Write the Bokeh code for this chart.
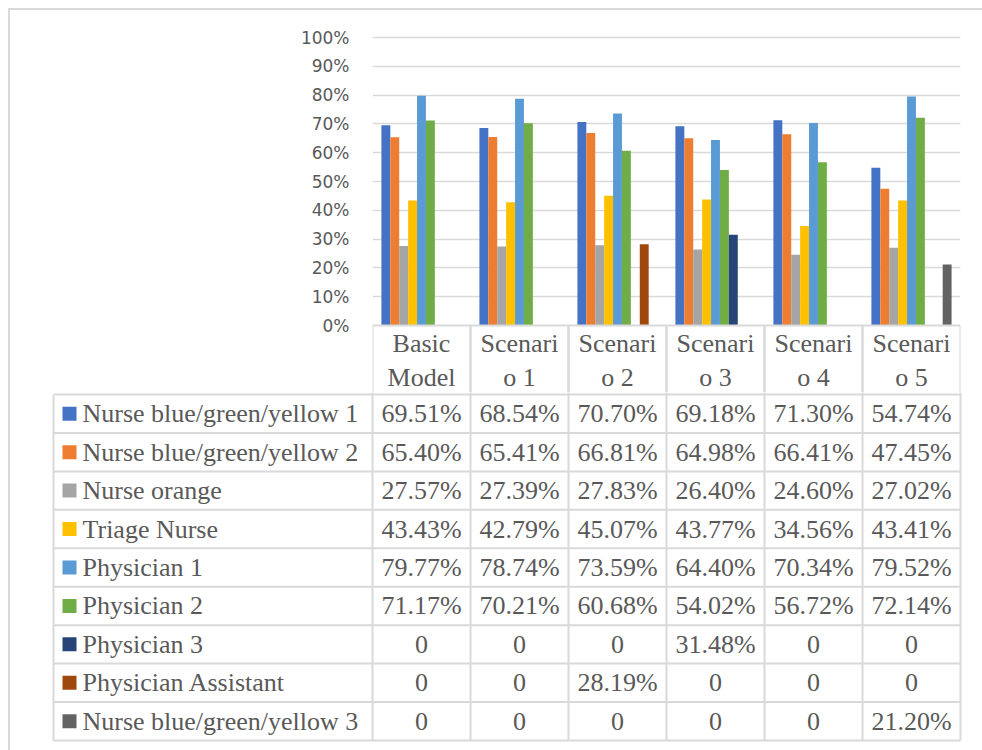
from bokeh.plotting import figure
from bokeh.models import FactorRange, Range1d, FixedTicker, NumeralTickFormatter, ColumnDataSource
from bokeh.transform import dodge
from bokeh.layouts import column
from bokeh.core.properties import value
from bokeh.embed import file_html
from bokeh.resources import INLINE

# ---------------- data ----------------
categories = ["Basic Model", "Scenario 1", "Scenario 2", "Scenario 3", "Scenario 4", "Scenario 5"]
header_labels = ["Basic\nModel", "Scenari\no 1", "Scenari\no 2", "Scenari\no 3", "Scenari\no 4", "Scenari\no 5"]

series_names = [
    "Nurse blue/green/yellow 1",
    "Nurse blue/green/yellow 2",
    "Nurse orange",
    "Triage Nurse",
    "Physician 1",
    "Physician 2",
    "Physician 3",
    "Physician Assistant",
    "Nurse blue/green/yellow 3",
]

nurse_bgy_1 = [0.6951, 0.6854, 0.7070, 0.6918, 0.7130, 0.5474]
nurse_bgy_2 = [0.6540, 0.6541, 0.6681, 0.6498, 0.6641, 0.4745]
nurse_orange = [0.2757, 0.2739, 0.2783, 0.2640, 0.2460, 0.2702]
triage_nurse = [0.4343, 0.4279, 0.4507, 0.4377, 0.3456, 0.4341]
physician_1 = [0.7977, 0.7874, 0.7359, 0.6440, 0.7034, 0.7952]
physician_2 = [0.7117, 0.7021, 0.6068, 0.5402, 0.5672, 0.7214]
physician_3 = [0, 0, 0, 0.3148, 0, 0]
physician_assistant = [0, 0, 0.2819, 0, 0, 0]
nurse_bgy_3 = [0, 0, 0, 0, 0, 0.2120]

y_ticks = [0.0, 0.1, 0.2, 0.3, 0.4, 0.5, 0.6, 0.7, 0.8, 0.9, 1.0]

series_values = [nurse_bgy_1, nurse_bgy_2, nurse_orange, triage_nurse,
                 physician_1, physician_2, physician_3, physician_assistant, nurse_bgy_3]
colors = ["#4472C4", "#ED7D31", "#A5A5A5", "#FFC000", "#5B9BD5",
          "#70AD47", "#264478", "#9E480E", "#636363"]

TEXT = "#595959"
LINE = "#d9d9d9"
font = value("Liberation Serif")

# ---------------- chart (with the header row of the data table) ----------------
keys = ["s%d" % i for i in range(len(series_names))]
data = {"cat": categories, "head": header_labels}
for k, v in zip(keys, series_values):
    data[k] = v
src = ColumnDataSource(data)

PX = 288.0          # pixels per 100 %
below = 67          # header row height below the 0 % line
above = 2

p1 = figure(width=972, height=25 + above + 288 + below,
            x_range=FactorRange(*categories, range_padding=0),
            y_range=Range1d(-below / PX, 1 + above / PX),
            x_axis_location=None, y_axis_location="left",
            toolbar_location=None, output_backend="svg",
            min_border_left=362, min_border_right=22,
            min_border_top=25, min_border_bottom=0)
p1.frame_align = False
p1.outline_line_color = None
p1.background_fill_color = "white"
p1.border_fill_color = "white"

n = len(series_names)
bw = 1 / (n + 2)
for i, k in enumerate(keys):
    p1.vbar(x=dodge("cat", (i - (n - 1) / 2) * bw, range=p1.x_range), top=k,
            width=bw, source=src, fill_color=colors[i], line_color=None)

# category axis line and separators (header row of the data table)
p1.segment(x0=dodge("cat", -0.5, range=p1.x_range), y0=0,
           x1=dodge("cat", 0.5, range=p1.x_range), y1=0,
           source=src, line_color=LINE, line_width=2)
p1.segment(x0=dodge("cat", -0.5, range=p1.x_range), y0=0,
           x1=dodge("cat", -0.5, range=p1.x_range), y1=-1,
           source=src, line_color=LINE, line_width=2)
p1.segment(x0=dodge("cat", 0.5, range=p1.x_range), y0=0,
           x1=dodge("cat", 0.5, range=p1.x_range), y1=-1,
           source=src, line_color=LINE, line_width=2)
p1.text(x="cat", y=-35 / PX, text="head", source=src,
        text_font=font, text_font_size="26px", text_color=TEXT,
        text_align="center", text_baseline="middle", text_line_height=1.15)

yax = p1.yaxis[0]
yax.ticker = FixedTicker(ticks=y_ticks)
yax.formatter = NumeralTickFormatter(format="0%")
yax.axis_line_color = None
yax.major_tick_line_color = None
yax.minor_tick_line_color = None
yax.major_tick_out = 0
yax.major_tick_in = 0
yax.major_label_standoff = 23
yax.major_label_text_font = "DejaVu Sans"
yax.major_label_text_font_size = "17px"
yax.major_label_text_color = TEXT

p1.xgrid.visible = False
p1.ygrid.ticker = FixedTicker(ticks=y_ticks[1:])
p1.ygrid.grid_line_color = LINE
p1.ygrid.grid_line_width = 1.5

# ---------------- data table body ----------------
top_g = 10 + p1.height          # global y where the table canvas starts
p2 = figure(width=972, height=750 - top_g,
            x_range=Range1d(10, 982), y_range=Range1d(750, top_g),
            x_axis_location=None, y_axis_location=None,
            toolbar_location=None, output_backend="svg",
            min_border=0)
p2.frame_align = False
p2.outline_line_color = None
p2.xgrid.visible = False
p2.ygrid.visible = False

tbl_left = 53
col0 = 372
col_w = 98
row_top = 394
row_h = 38.44
ncol = len(categories)
col_right = col0 + col_w * ncol

x0s, y0s, x1s, y1s = [], [], [], []
for k in range(n + 1):
    yy = row_top + row_h * k
    x0s.append(tbl_left); y0s.append(yy); x1s.append(col_right); y1s.append(yy)
bottom = row_top + row_h * n
x0s.append(tbl_left); y0s.append(row_top); x1s.append(tbl_left); y1s.append(bottom)
for j in range(ncol + 1):
    xx = col0 + col_w * j
    x0s.append(xx); y0s.append(top_g - 2); x1s.append(xx); y1s.append(bottom)
p2.segment(x0=x0s, y0=y0s, x1=x1s, y1=y1s, line_color=LINE, line_width=2)

col_centers = [col0 + col_w * (j + 0.5) for j in range(ncol)]
row_centers = [row_top + row_h * (i + 0.5) for i in range(n)]

# legend keys and names
p2.rect(x=[69] * n, y=row_centers, width=14, height=14, fill_color=colors, line_color=None)
p2.text(x=[82] * n, y=row_centers, text=series_names,
        text_font=font, text_font_size="26px", text_color=TEXT,
        text_align="left", text_baseline="middle")

# values
vx, vy, vt = [], [], []
for i, vals in enumerate(series_values):
    for j, v in enumerate(vals):
        vx.append(col_centers[j])
        vy.append(row_centers[i])
        vt.append("0" if v == 0 else "%.2f%%" % (v * 100))
p2.text(x=vx, y=vy, text=vt, text_font=font, text_font_size="26px", text_color=TEXT,
        text_align="center", text_baseline="middle")

layout = column(p1, p2, spacing=0, margin=(8, 0, 0, 8),
                styles={"border-top": "2px solid #d9d9d9", "border-left": "2px solid #d9d9d9"})

open("out.html", "w").write(file_html(layout, INLINE))
